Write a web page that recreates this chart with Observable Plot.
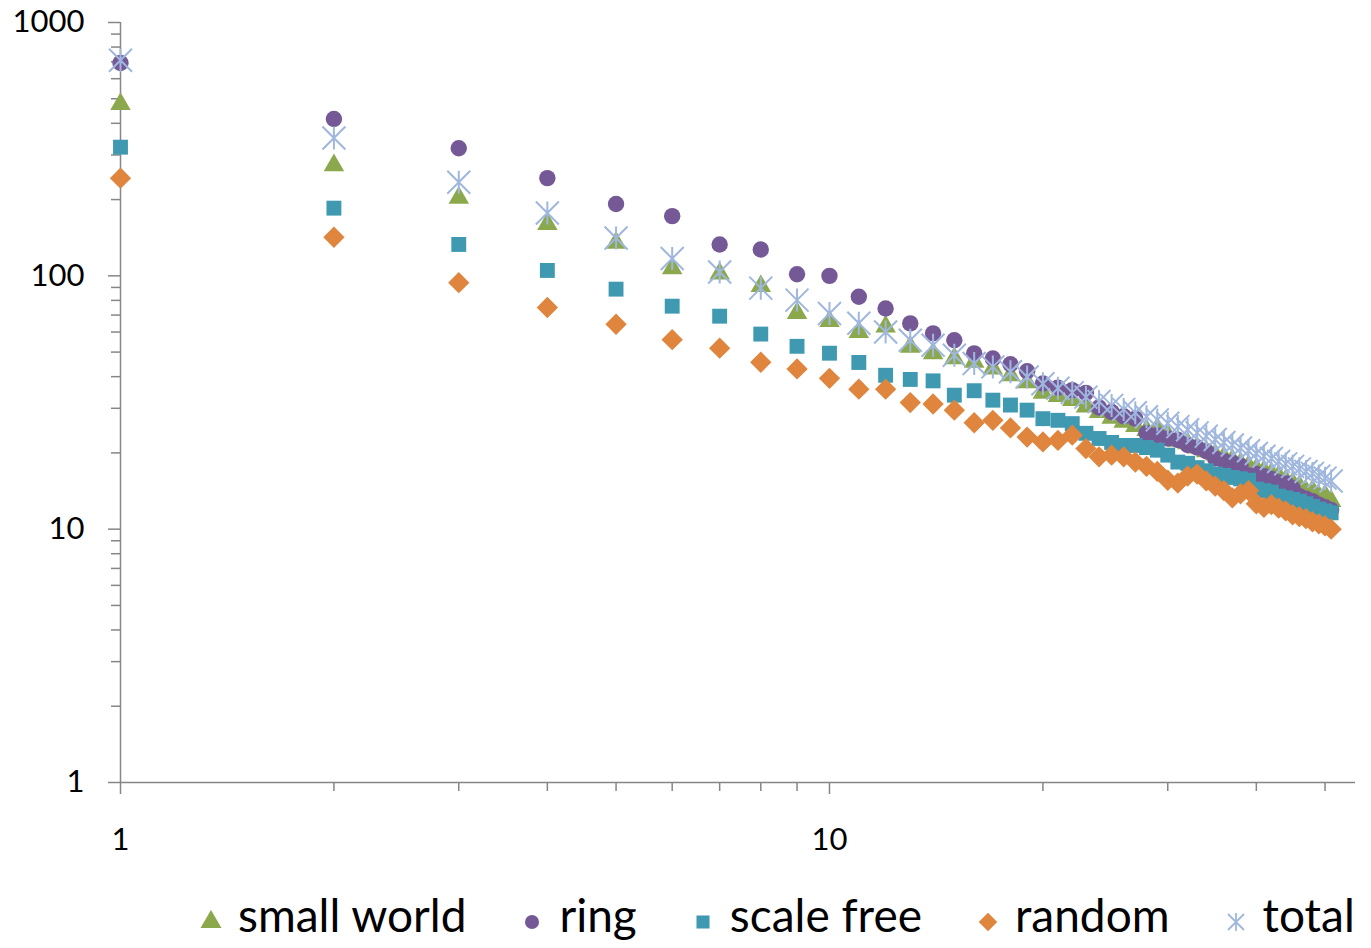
<!DOCTYPE html>
<html>
<head>
<meta charset="utf-8">
<script src="https://cdn.jsdelivr.net/npm/d3@7"></script>
<script src="https://cdn.jsdelivr.net/npm/@observablehq/plot@0.6"></script>
<style>
  body { margin: 0; background: #fff; font-family: Lato, "Open Sans", sans-serif; }
  #legend { display: flex; align-items: center; margin-left: 199px; margin-top: 17px; font-size: 46px; line-height: 1.2; color: #000; white-space: nowrap; }
  #legend .item { display: flex; align-items: center; margin-right: 54px; }
  #legend svg { margin-right: 15px; position: relative; top: 7px; }
</style>
</head>
<body>
<div id="chart"></div>
<div id="legend"></div>
<script>
// ---- data ----
const degree = [1,2,3,4,5,6,7,8,9,10,11,12,13,14,15,16,17,18,19,20,21,22,23,24,25,26,27,28,29,30,31,32,33,34,35,36,37,38,39,40,41,42,43,44,45,46,47,48,49,50,51];

const smallWorld = [476,273,203,160,135,107,102,91,71.3,66.2,60,63,52.5,49.4,47.2,45.8,43,40.5,38,34.5,33.5,32.3,30.5,29,27.5,26.5,25.5,24.6,25,23.5,22.3,21.8,21,20.3,19.7,19.3,18.8,18.2,17.8,17.3,17,16.6,16.2,15.6,15.2,14.8,14.1,14.2,13.5,13.6,12.9];

const ring = [692,416,319,243,192,172,133,127,101.5,100,82.7,74.3,64.9,59.3,55.7,49.4,47.2,44.8,42,37.6,36.2,35.4,34.5,30.2,29,27.9,27.3,23.9,23.5,22.8,22.5,21.5,21,20.3,19,18.6,18.3,17.8,16.3,16.5,16.2,15.8,15.3,15.2,14.5,13.5,13.2,12.9,12.5,12.2,11.9];

const scaleFree = [322,185,133,105,88.6,75.9,69.3,58.9,52.7,49.5,45.5,40.5,39,38.5,33.8,35.2,32.3,30.9,29.5,27.3,26.9,26.1,23.9,22.8,22,21.4,21.4,21,20.5,19.6,18.4,18.2,17.5,17,16.5,16.3,16,15.8,15.6,14.4,14.2,14,13.5,13.3,13.1,12.9,12.6,12.3,12,11.8,11.6];

const random = [243,142,94,75,64.4,56,51.8,45.6,42.9,39.4,35.7,35.7,31.6,31.2,29.5,26.3,26.9,25.1,23.1,22.1,22.4,23.5,20.8,19.3,19.6,19.3,18.4,17.7,16.9,15.6,15.2,16.2,16.5,15.5,14.8,14.2,13.3,13.8,14.2,12.6,12.2,12.5,12.1,11.8,11.4,11.2,11,10.7,10.5,10.3,10];

const total = [710,350,234,177,141,117,103.5,89.4,80.2,71,65,60,55.7,53.2,48.6,45.1,43.7,41.8,39.9,37.5,36,34.6,33.2,31.9,30.8,29.7,28.8,27.8,27,26.2,25.4,24.7,24,23.3,22.6,22,21.5,20.9,20.4,19.9,19.4,19,18.5,18.1,17.7,17.3,16.9,16.6,16.2,15.9,15.5];

const seriesNames = ["small world", "ring", "scale free", "random", "total"];

const yTickLabels = [1, 10, 100, 1000];
const yMinorTicks = [2,3,4,5,6,7,8,9,20,30,40,50,60,70,80,90,200,300,400,500,600,700,800,900];
const xTickLabels = [1, 10];
const xMinorTicks = [2,3,4,5,6,7,8,9,20,30,40,50];

// ---- styles ----
const colors = {
  "small world": "#8BA84D",
  "ring": "#755996",
  "scale free": "#3F99B1",
  "random": "#DF853D",
  "total": "#9FB7DE"
};
const axisGray = "#868686";

// Excel-style star marker: an X with a vertical bar
const starSymbol = {
  draw(ctx, size) {
    const r = Math.sqrt(size / Math.PI);
    ctx.moveTo(-r, -r); ctx.lineTo(r, r);
    ctx.moveTo(r, -r); ctx.lineTo(-r, r);
    ctx.moveTo(0, -r); ctx.lineTo(0, r);
  }
};

const table = (values) => degree.map((d, i) => ({degree: d, value: values[i]}));

const chart = Plot.plot({
  width: 1371,
  height: 870,
  marginLeft: 120,
  marginRight: 16,
  marginTop: 22,
  marginBottom: 88,
  style: {fontFamily: "Lato, 'Open Sans', sans-serif", background: "#fff", color: "#000"},
  x: {type: "log", domain: [1, 55.2], axis: null},
  y: {type: "log", domain: [1, 1000], axis: null},
  marks: [
    // axis lines
    Plot.ruleX([1], {y1: 1, y2: 1000, stroke: axisGray, strokeWidth: 1.5}),
    Plot.ruleY([1], {stroke: axisGray, strokeWidth: 1.5}),
    // y axis
    Plot.axisY(yMinorTicks, {tickSize: 9, tickFormat: () => "", stroke: axisGray, strokeWidth: 1.5, label: null}),
    Plot.axisY(yTickLabels, {tickSize: 12, tickPadding: 24, fontSize: 31, tickFormat: d => String(d), stroke: axisGray, strokeWidth: 1.5, fill: "#000", label: null}),
    // x axis
    Plot.axisX(xMinorTicks, {tickSize: 9, tickFormat: () => "", stroke: axisGray, strokeWidth: 1.5, label: null}),
    Plot.axisX(xTickLabels, {tickSize: 12, tickPadding: 33, fontSize: 31, tickFormat: d => String(d), stroke: axisGray, strokeWidth: 1.5, fill: "#000", label: null}),
    // series (Excel draw order)
    Plot.dot(table(smallWorld), {x: "degree", y: "value", symbol: "triangle", r: 7.6, fill: colors["small world"], stroke: "none"}),
    Plot.dot(table(ring), {x: "degree", y: "value", symbol: "circle", r: 8.2, fill: colors["ring"], stroke: "none"}),
    Plot.dot(table(scaleFree), {x: "degree", y: "value", symbol: "square", r: 8.4, fill: colors["scale free"], stroke: "none"}),
    Plot.dot(table(random), {x: "degree", y: "value", symbol: "diamond2", r: 9.6, fill: colors["random"], stroke: "none"}),
    Plot.dot(table(total), {x: "degree", y: "value", symbol: starSymbol, r: 11.5, fill: "none", stroke: colors["total"], strokeWidth: 2})
  ]
});
document.getElementById("chart").appendChild(chart);

// ---- legend ----
const legendSymbols = {
  "small world": d3.symbol(d3.symbolTriangle, 190)(),
  "ring": null,
  "scale free": d3.symbol(d3.symbolSquare, 170)(),
  "random": d3.symbol(d3.symbolDiamond2, 220)(),
  "total": "M-8,-8L8,8M8,-8L-8,8M0,-9L0,9"
};
const legend = document.getElementById("legend");
for (const name of seriesNames) {
  const item = document.createElement("div");
  item.className = "item";
  const ns = "http://www.w3.org/2000/svg";
  const svg = document.createElementNS(ns, "svg");
  svg.setAttribute("width", 24);
  svg.setAttribute("height", 24);
  svg.setAttribute("viewBox", "-12 -12 24 24");
  let shape;
  if (name === "ring") {
    shape = document.createElementNS(ns, "circle");
    shape.setAttribute("r", 7);
    shape.setAttribute("fill", colors[name]);
  } else {
    shape = document.createElementNS(ns, "path");
    shape.setAttribute("d", legendSymbols[name]);
    if (name === "total") {
      shape.setAttribute("fill", "none");
      shape.setAttribute("stroke", colors[name]);
      shape.setAttribute("stroke-width", 1.8);
    } else {
      shape.setAttribute("fill", colors[name]);
    }
  }
  svg.appendChild(shape);
  const label = document.createElement("span");
  label.textContent = name;
  item.appendChild(svg);
  item.appendChild(label);
  legend.appendChild(item);
}
</script>
</body>
</html>
